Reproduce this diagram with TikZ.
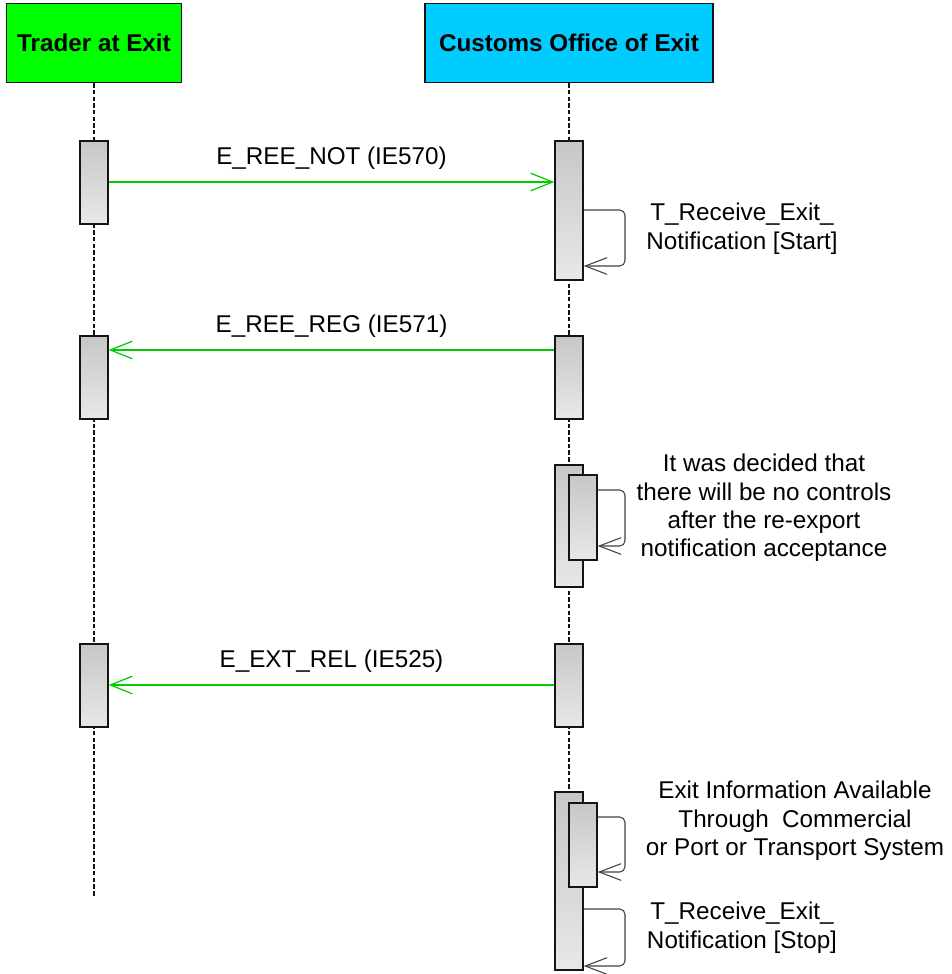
\documentclass[tikz,border=0pt]{standalone}
\usepackage{fontspec}
\setmainfont{Liberation Sans}
\usetikzlibrary{arrows.meta}
\definecolor{figline}{RGB}{20,20,20}
\definecolor{tradergreen}{RGB}{0,255,0}
\definecolor{customsblue}{RGB}{0,204,255}
\definecolor{msggreen}{RGB}{0,204,0}
\tikzset{
  hdr/.style    ={draw=figline, line width=0.9pt, minimum height=1.58cm, inner sep=0pt, font=\fontsize{13.8}{16}\selectfont\bfseries},
  life/.style   ={draw=figline, line width=0.6pt, dash pattern=on 2.5pt off 1.3pt},
  act/.style    ={draw=figline, line width=0.8pt, minimum width=0.56cm, inner sep=0pt, top color=black!22, bottom color=black!9},
  msg/.style    ={draw=msggreen, line width=0.7pt, -{Straight Barb[length=12.5pt,width=10pt]}},
  selfmsg/.style={draw=black!75, line width=0.6pt, rounded corners=3pt, -{Straight Barb[length=12.5pt,width=9.5pt]}},
  lab/.style    ={font=\fontsize{13.8}{16.05}\selectfont, inner sep=0pt},
  msglab/.style ={lab, midway, anchor=base, yshift=0.36cm},
  note/.style   ={lab, align=center, anchor=north},
}
\begin{document}
\begin{tikzpicture}[x=0.02cm,y=-0.02cm]
  \useasboundingbox (0,0) rectangle (951,974);
  % lifelines
  \node[hdr, fill=tradergreen, minimum width=3.5cm] (trader) at (94,43) {Trader at Exit};
  \node[hdr, fill=customsblue, minimum width=5.76cm] (customs) at (569,43) {Customs Office of Exit};
  \coordinate (traderend) at (94,897);
  \coordinate (customsend) at (569,800);
  \draw[life] (trader) -- (traderend);
  \draw[life] (customs) -- (customsend);
  % activations
  \node[act, minimum height=1.66cm] (tA1) at (94,182.5) {};
  \node[act, minimum height=1.66cm] (tA2) at (94,377.5) {};
  \node[act, minimum height=1.66cm] (tA3) at (94,685.5) {};
  \node[act, minimum height=2.78cm] (cA1) at (569,210.5) {};
  \node[act, minimum height=1.66cm] (cA2) at (569,377.5) {};
  \node[act, minimum height=2.44cm] (cA3) at (569,526) {};
  \node[act, minimum height=1.70cm] (cN3) at (583,517.5) {};
  \node[act, minimum height=1.66cm] (cA4) at (569,685.5) {};
  \node[act, minimum height=3.56cm] (cA5) at (569,881) {};
  \node[act, minimum height=1.68cm] (cN5) at (583,845) {};
  % messages
  \coordinate (m1) at (0,182);
  \coordinate (m2) at (0,350);
  \coordinate (m3) at (0,685);
  \draw[msg] (tA1.east |- m1) -- (cA1.west |- m1) node[msglab] {E\_REE\_NOT (IE570)};
  \draw[msg] (cA2.west |- m2) -- (tA2.east |- m2) node[msglab] {E\_REE\_REG (IE571)};
  \draw[msg] (cA4.west |- m3) -- (tA3.east |- m3) node[msglab] {E\_EXT\_REL (IE525)};
  % self messages
  \coordinate (s1a) at (625,210);
  \coordinate (s1b) at (625,266);
  \coordinate (s2a) at (625,490);
  \coordinate (s2b) at (625,546);
  \coordinate (s3a) at (625,817);
  \coordinate (s3b) at (625,872);
  \coordinate (s4a) at (625,909);
  \coordinate (s4b) at (625,966);
  \draw[selfmsg] (cA1.east |- s1a) -- (s1a) -- (s1b) -- (cA1.east |- s1b);
  \draw[selfmsg] (cN3.east |- s2a) -- (s2a) -- (s2b) -- (cN3.east |- s2b);
  \draw[selfmsg] (cN5.east |- s3a) -- (s3a) -- (s3b) -- (cN5.east |- s3b);
  \draw[selfmsg] (cA5.east |- s4a) -- (s4a) -- (s4b) -- (cA5.east |- s4b);
  \node[note] (s1lab) at (742,203) {T\_Receive\_Exit\_\\Notification [Start]};
  \node[note] (s2lab) at (764,454) {It was decided that\\there will be no controls\\after the re-export\\notification acceptance};
  \node[note] (s3lab) at (795,781) {Exit Information Available\\Through\ \ Commercial\\or Port or Transport System};
  \node[note] (s4lab) at (742,902) {T\_Receive\_Exit\_\\Notification [Stop]};
\end{tikzpicture}
\end{document}
